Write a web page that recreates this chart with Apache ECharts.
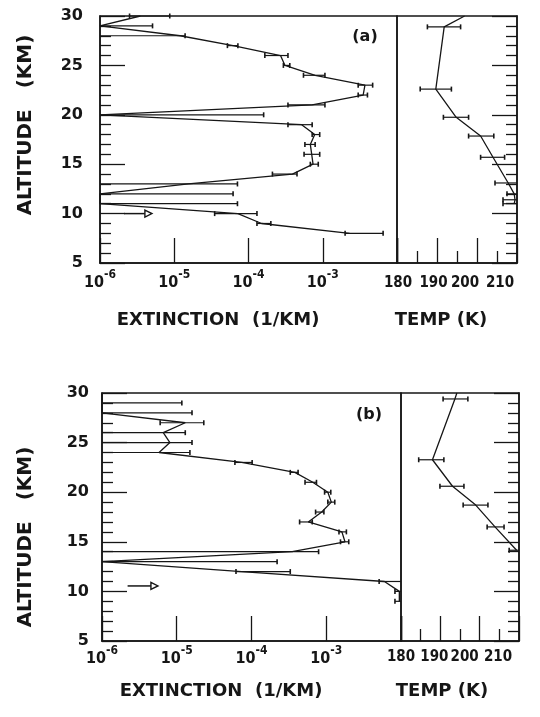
<!DOCTYPE html>
<html><head><meta charset="utf-8">
<script src="https://cdn.jsdelivr.net/npm/echarts@6/dist/echarts.min.js"></script>
<style>html,body{margin:0;padding:0;background:#fff}#c{width:540px;height:717px}</style>
</head><body><div id="c"></div>
<script>
// ---------- Panel (a) extinction ----------
const altA  = [30, 29, 28, 27, 26, 25, 24, 23, 22, 21, 20, 19, 18, 17, 16, 15, 14, 13, 12, 11, 10, 9, 8];
const extA  = [3.5e-6, 1e-6, 1.2e-5, 6.2e-5, 2.7e-4, 3.1e-4, 7.9e-4, 3.7e-3, 3.5e-3, 7.2e-4, 1e-6, 5.2e-4, 7.8e-4, 6.8e-4, 7.1e-4, 7.4e-4, 3.9e-4, 1.55e-5, 1e-6, 1e-6, 7.2e-5, 1.5e-4, 2.3e-3];
const extLoA = [2.5e-6, 1e-7, 1e-7, 5.2e-5, 1.66e-4, 2.95e-4, 5.5e-4, 3.0e-3, 3.0e-3, 3.4e-4, 1e-7, 3.4e-4, 7.2e-4, 5.75e-4, 5.6e-4, 6.8e-4, 2.1e-4, 1e-7, 1e-7, 1e-7, 3.5e-5, 1.3e-4, 2.0e-3];
const extHiA = [8.7e-6, 5.1e-6, 1.4e-5, 7.2e-5, 3.4e-4, 3.6e-4, 1.07e-3, 4.7e-3, 4.0e-3, 1.07e-3, 1.6e-4, 7.2e-4, 9.1e-4, 7.9e-4, 9.1e-4, 8.7e-4, 4.5e-4, 7.1e-5, 6.2e-5, 7.1e-5, 1.3e-4, 2.0e-4, 6.5e-3];
// ---------- Panel (a) temperature ----------
const tAltA = [30, 28.9, 22.6, 19.75, 17.85, 15.7, 13.1, 12.0, 11.4, 11.0];
const tA    = [196.9, 191.8, 189.7, 194.8, 200.9, 204.0, 207.8, 209.3, 209.5, 209.3];
const tLoA  = [null, 187.6, 185.8, 191.6, 197.9, 200.9, 204.5, 207.5, 206.5, 206.5];
const tHiA  = [null, 195.9, 193.6, 197.9, 204.2, 206.9, 211, 211, 211, 211];
// ---------- Panel (b) extinction ----------
const altB  = [30, 29, 28, 27, 26, 25, 24, 23, 22, 21, 20, 19, 18, 17, 16, 15, 14, 13, 12, 11, 10, 9];
const extB  = [1e-6, 1e-6, 1e-6, 1.3e-5, 6.6e-6, 8.1e-6, 5.8e-6, 7.4e-5, 3.8e-4, 6.6e-4, 1.05e-3, 1.17e-3, 8.7e-4, 5.75e-4, 1.62e-3, 1.78e-3, 3.5e-4, 1e-6, 7.4e-5, 6.0e-3, 9.5e-3, 9.5e-3];
const extLoB = [null, 1e-7, 1e-7, 6.0e-6, 1e-7, 1e-7, 1e-7, 6.0e-5, 3.3e-4, 5.2e-4, 9.5e-4, 1.05e-3, 7.2e-4, 4.4e-4, 1.48e-3, 1.55e-3, 1e-7, 1e-7, 6.2e-5, 5.1e-3, 8.3e-3, 8.3e-3];
const extHiB = [null, 1.17e-5, 1.6e-5, 2.3e-5, 1.3e-5, 1.6e-5, 1.5e-5, 1.02e-4, 4.2e-4, 7.4e-4, 1.15e-3, 1.3e-3, 9.3e-4, 6.5e-4, 1.86e-3, 2.0e-3, 7.9e-4, 2.2e-4, 3.3e-4, 1.26e-2, 1.2e-2, 1.17e-2];
// ---------- Panel (b) temperature ----------
const tAltB = [30, 29.4, 23.27, 20.6, 18.7, 16.5, 14.15];
const tB    = [194.2, 193.7, 188.0, 193.1, 199.0, 203.9, 209.4];
const tLoB  = [null, 190.7, 184.5, 189.9, 195.8, 201.9, 207.5];
const tHiB  = [null, 197.0, 190.9, 196.0, 202.1, 206.2, 211];
// ---------- arrows [from, to, altitude] ----------
const arrowA = [2.1e-6, 5.0e-6, 10.0];
const arrowB = [2.2e-6, 5.6e-6, 10.55];
// ---------- tick labels ----------
const extTickExps = [-6, -5, -4, -3];
const tempTicks = [180, 190, 200, 210];
const altTicks = [5, 10, 15, 20, 25, 30];

const INK = '#161616';
const FONT = 'DejaVu Sans';
const NUMFONT = "'DejaVu Sans Condensed', 'DejaVu Sans'";

function lineSeries(xi, yi, xs, ys) {
  return { type: 'line', xAxisIndex: xi, yAxisIndex: yi, symbol: 'none', clip: true,
    lineStyle: { color: INK, width: 1.3 }, z: 4,
    data: ys.map((a, i) => [xs[i], a]) };
}
function errSeries(xi, yi, lo, hi, ys) {
  const data = [];
  ys.forEach((a, i) => { if (lo[i] != null) data.push([lo[i], hi[i], a]); });
  return { type: 'custom', xAxisIndex: xi, yAxisIndex: yi, silent: true, z: 3,
    encode: { x: [0, 1], y: 2 }, data,
    renderItem(params, api) {
      const cs = params.coordSys;
      const p1 = api.coord([api.value(0), api.value(2)]);
      const p2 = api.coord([api.value(1), api.value(2)]);
      const y = p1[1];
      const xmin = cs.x, xmax = cs.x + cs.width;
      let x1 = p1[0], x2 = p2[0];
      const c1 = x1 > xmin + 1, c2 = x2 < xmax - 1;
      x1 = Math.max(xmin, x1); x2 = Math.min(xmax, x2);
      const st = { stroke: INK, lineWidth: 1.2 };
      const ch = [{ type: 'line', shape: { x1, y1: y, x2, y2: y }, style: st }];
      if (c1) ch.push({ type: 'line', shape: { x1: x1, y1: y - 2.5, x2: x1, y2: y + 2.5 }, style: { stroke: INK, lineWidth: 1.6 } });
      if (c2) ch.push({ type: 'line', shape: { x1: x2, y1: y - 2.5, x2: x2, y2: y + 2.5 }, style: { stroke: INK, lineWidth: 1.6 } });
      return { type: 'group', children: ch };
    } };
}
function arrowSeries(xi, yi, arr) {
  return { type: 'custom', xAxisIndex: xi, yAxisIndex: yi, silent: true, z: 5,
    encode: { x: [0, 1], y: 2 }, data: [arr],
    renderItem(params, api) {
      const p1 = api.coord([api.value(0), api.value(2)]);
      const p2 = api.coord([api.value(1), api.value(2)]);
      const y = p1[1];
      return { type: 'group', children: [
        { type: 'line', shape: { x1: p1[0], y1: y, x2: p2[0] - 7, y2: y }, style: { stroke: INK, lineWidth: 1.5 } },
        { type: 'polygon', shape: { points: [[p2[0] - 7, y - 3.5], [p2[0], y], [p2[0] - 7, y + 3.5]] },
          style: { fill: '#fff', stroke: INK, lineWidth: 1.4 } }
      ] };
    } };
}

const tickStyle = { color: INK, width: 1.3 };
function extAxis(gi, margin) {
  return { type: 'log', logBase: 10, gridIndex: gi, min: 1e-6, max: 1e-2,
    axisLine: { show: true, lineStyle: { color: INK, width: 1.5 } },
    axisTick: { show: true, inside: true, length: 25, lineStyle: tickStyle },
    splitLine: { show: false },
    axisLabel: { margin, color: INK,
      formatter: v => { const e = Math.round(Math.log10(v)); return extTickExps.includes(e) ? '{b|10}{s|' + e + '}' : ''; },
      rich: {
        b: { fontFamily: NUMFONT, fontWeight: 'bold', fontSize: 16, color: INK, lineHeight: 22, verticalAlign: 'bottom' },
        s: { fontFamily: NUMFONT, fontWeight: 'bold', fontSize: 12, color: INK, lineHeight: 22, verticalAlign: 'top' }
      } } };
}
function tempAxis(gi, margin, shifts) {
  const rich = {};
  tempTicks.forEach((t, i) => {
    const s = shifts[i];
    rich['t' + t] = { fontFamily: NUMFONT, fontWeight: 'bold', fontSize: 15, color: INK,
      padding: s >= 0 ? [0, 0, 0, 2 * s] : [0, -2 * s, 0, 0] };
  });
  return { type: 'value', gridIndex: gi, min: 180, max: 210, interval: 10,
    axisLine: { show: true, lineStyle: { color: INK, width: 1.5 } },
    axisTick: { show: true, inside: true, length: 25, lineStyle: tickStyle },
    minorTick: { show: true, splitNumber: 2, length: 12, lineStyle: tickStyle },
    splitLine: { show: false }, minorSplitLine: { show: false },
    axisLabel: { margin, color: INK, formatter: v => tempTicks.includes(v) ? '{t' + v + '|' + v + '}' : '', rich } };
}
function altAxis(gi, pos, margin, showLabel) {
  return { type: 'value', gridIndex: gi, position: pos, min: 5, max: 30, interval: 5,
    axisLine: { show: true, lineStyle: { color: INK, width: 1.5 } },
    axisTick: { show: true, inside: true, length: 25, lineStyle: tickStyle },
    minorTick: { show: true, splitNumber: 5, length: 11, lineStyle: tickStyle },
    splitLine: { show: false }, minorSplitLine: { show: false },
    axisLabel: { show: showLabel, margin, color: INK, fontFamily: FONT, fontWeight: 'bold', fontSize: 16,
      formatter: v => altTicks.includes(v) ? String(v) : '' } };
}
const gridBase = { show: true, borderColor: INK, borderWidth: 1.5, containLabel: false };
function txt(x, y, s, size, rot) {
  return { type: 'text', x, y, rotation: rot || 0, silent: true,
    style: { text: s, fontFamily: FONT, fontWeight: 'bold', fontSize: size, fill: INK, textAlign: 'center', textVerticalAlign: 'middle' } };
}

const chart = echarts.init(document.getElementById('c'), null, { renderer: 'canvas' });
chart.setOption({
  backgroundColor: '#ffffff',
  animation: false,
  grid: [
    Object.assign({ left: 100, top: 16, width: 297, height: 247 }, gridBase),
    Object.assign({ left: 397, top: 16, width: 120, height: 247 }, gridBase),
    Object.assign({ left: 102, top: 393, width: 299, height: 248 }, gridBase),
    Object.assign({ left: 401, top: 393, width: 118, height: 248 }, gridBase)
  ],
  xAxis: [
    extAxis(0, 6),
    tempAxis(1, 13, [1, -3.5, -12, -17]),
    extAxis(2, 4),
    tempAxis(3, 9, [0, -6, -15, -21])
  ],
  yAxis: [
    altAxis(0, 'left', 17, true),
    altAxis(1, 'right', 8, false),
    altAxis(2, 'left', 13, true),
    altAxis(3, 'right', 8, false)
  ],
  series: [
    lineSeries(0, 0, extA, altA), errSeries(0, 0, extLoA, extHiA, altA), arrowSeries(0, 0, arrowA),
    lineSeries(1, 1, tA, tAltA), errSeries(1, 1, tLoA, tHiA, tAltA),
    lineSeries(2, 2, extB, altB), errSeries(2, 2, extLoB, extHiB, altB), arrowSeries(2, 2, arrowB),
    lineSeries(3, 3, tB, tAltB), errSeries(3, 3, tLoB, tHiB, tAltB)
  ],
  graphic: [
    txt(26, 125, 'ALTITUDE   (KM)', 20, Math.PI / 2),
    txt(218, 320, 'EXTINCTION  (1/KM)', 18),
    txt(441, 320, 'TEMP (K)', 18),
    txt(365, 37, '(a)', 16),
    txt(26, 537, 'ALTITUDE   (KM)', 20, Math.PI / 2),
    txt(221, 691, 'EXTINCTION  (1/KM)', 18),
    txt(442, 691, 'TEMP (K)', 18),
    txt(369, 415, '(b)', 16)
  ]
});
</script></body></html>
